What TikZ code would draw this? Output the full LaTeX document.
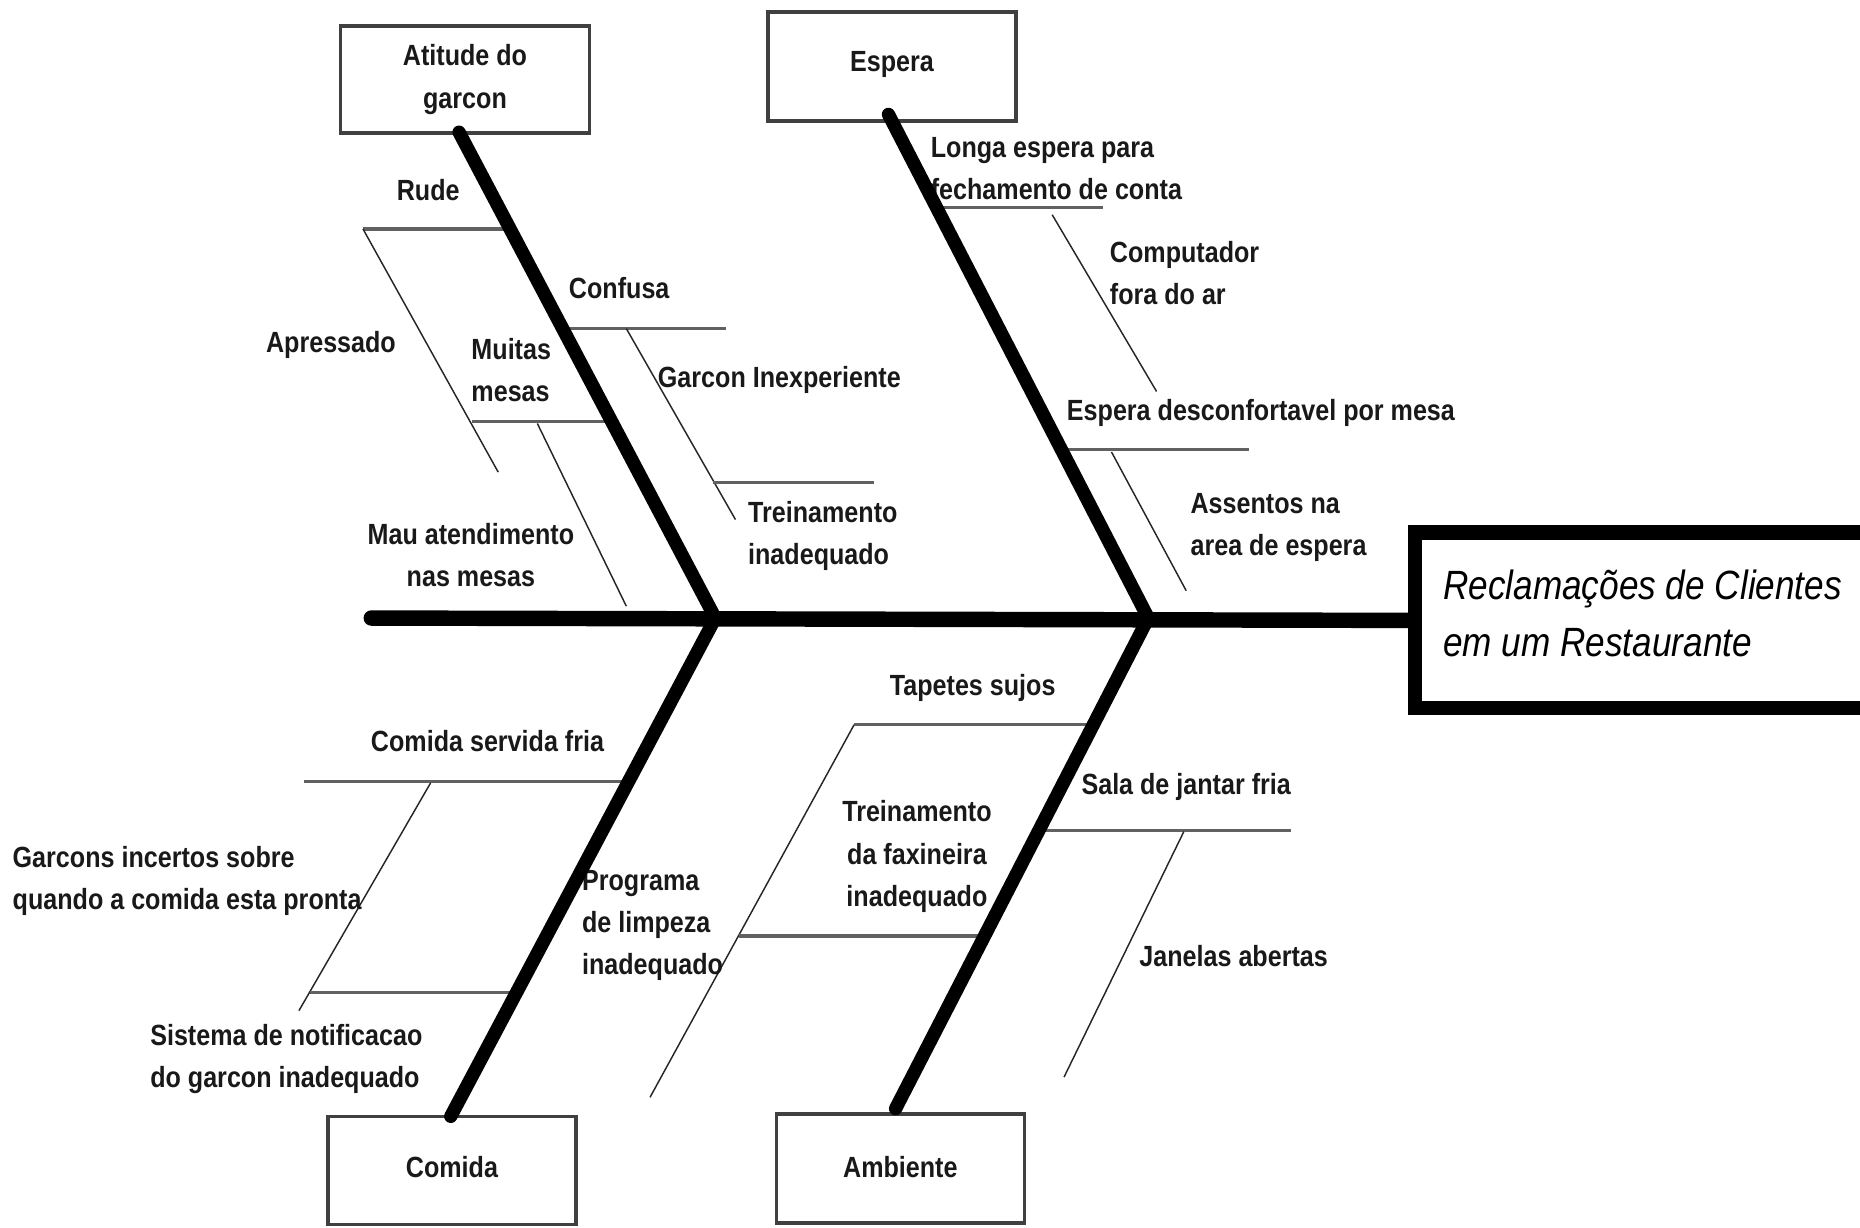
\documentclass[tikz,border=0pt]{standalone}
\usepackage{fontspec}
\setmainfont{Liberation Sans}[FakeStretch=0.86]
\newfontfamily\titlefont{Liberation Sans}[FakeStretch=0.86]
\usetikzlibrary{calc}
\begin{document}
\begin{tikzpicture}[x=0.01cm,y=-0.01cm,
  lbl/.style={font=\fontsize{7}{10.1}\selectfont\bfseries, inner sep=0pt, align=center, text=black!90},
  lbll/.style={lbl, align=left},
  catbox/.style={lbl, draw=black!75, line width=0.8pt, minimum width=2.09cm, minimum height=0.91cm},
  bone/.style={line width=3.2pt, line cap=round},
  branch/.style={draw=black!62, line width=0.75pt},
  twig/.style={draw=black!85, line width=0.35pt}]
\useasboundingbox (0,0) rectangle (1568,1035);

% category boxes
\node[catbox, minimum width=2.10cm, minimum height=0.90cm] (atitude) at (392,67) {Atitude do\\garcon};
\node[catbox, minimum height=0.92cm] (espera) at (752,56) {\raisebox{2.5pt}{Espera}};
\node[catbox] (comida) at (381,987) {\raisebox{2pt}{Comida}};
\node[catbox, minimum height=0.92cm] (ambiente) at (759,985) {\raisebox{0.8pt}{Ambiente}};

% effect box
\node[draw, line width=3.4pt, minimum width=3.88cm, minimum height=1.48cm, anchor=west] (effect) at (1187,523) {};
\node[inner sep=0pt, anchor=west, align=left,
      font=\titlefont\itshape\fontsize{9.8}{13.8}\selectfont] (effecttext) at (1216,517)
      {Reclamações de Clientes\\em um Restaurante};

% joints
\coordinate (tail) at (313,521);
\coordinate (j1) at (603,521);
\coordinate (j2) at (968,521);

% branches: Atitude do garcon
\draw[branch] (306,193) -- (431,193);
\draw[twig] (306,193) -- (420,398);
\draw[branch] (475,277) -- (612,277);
\draw[twig] (528,277) -- (620,438);
\draw[branch] (601,407) -- (737,407);
\draw[branch] (398,355) -- (516,355);
\draw[twig] (453,357) -- (528,511);

% branches: Espera
\draw[branch] (790,175) -- (930,175);
\draw[twig] (887,181) -- (975,330);
\draw[branch] (895,379) -- (1053,379);
\draw[twig] (937,381) -- (1000,498);

% branches: Comida
\draw[branch] (256,659) -- (530,659);
\draw[twig] (363,660) -- (252,852);
\draw[branch] (261,837) -- (436,837);

% branches: Ambiente
\draw[branch] (720,611) -- (923,611);
\draw[twig] (720,611) -- (548,925);
\draw[branch] (623,789) -- (833,789);
\draw[branch] (878,700) -- (1088,700);
\draw[twig] (998,701) -- (897,908);

% labels
\node[lbl] (rude) at (361,160) {Rude};
\node[lbl] (apressado) at (279,291) {Apressado};
\node[lbl] (confusa) at (522,243) {Confusa};
\node[lbll] (muitas) at (431,312) {Muitas\\mesas};
\node[lbl] (inexp) at (657,320) {Garcon Inexperiente};
\node[lbll, anchor=west] (treinamento) at (630,452) {Treinamento\\inadequado};
\node[lbl] (mau) at (397,468) {Mau atendimento\\nas mesas};
\node[lbll, anchor=west] (longa) at (784,142) {Longa espera para\\fechamento de conta};
\node[lbll, anchor=west] (computador) at (935,230) {Computador\\fora do ar};
\node[lbl] (desconf) at (1063,348) {Espera desconfortavel por mesa};
\node[lbll, anchor=west] (assentos) at (1003,445) {Assentos na\\area de espera};
\node[lbl] (fria) at (411,625) {Comida servida fria};
\node[lbll, anchor=west] (incertos) at (10,743) {Garcons incertos sobre\\quando a comida esta pronta};
\node[lbll, anchor=west] (sistema) at (126,893) {Sistema de notificacao\\do garcon inadequado};
\node[lbll, anchor=west] (programa) at (490,780) {Programa\\de limpeza\\inadequado};
\node[lbl] (tapetes) at (820,580) {Tapetes sujos};
\node[lbl] (faxineira) at (773,722) {Treinamento\\da faxineira\\inadequado};
\node[lbl] (sala) at (1000,663) {Sala de jantar fria};
\node[lbl] (janelas) at (1040,806) {Janelas abertas};

% spine and bones
\draw[bone, line width=3.7pt] (tail) -- (effect.west);
\draw[bone] ($(atitude.south)+(-5,-2)$) -- (j1);
\draw[bone] ($(espera.south)+(-3,-7)$) -- (j2);
\draw[bone] (j1) -- ($(comida.north)+(-1,1)$);
\draw[bone] (j2) -- ($(ambiente.north)+(-4,-3)$);
\end{tikzpicture}
\end{document}
